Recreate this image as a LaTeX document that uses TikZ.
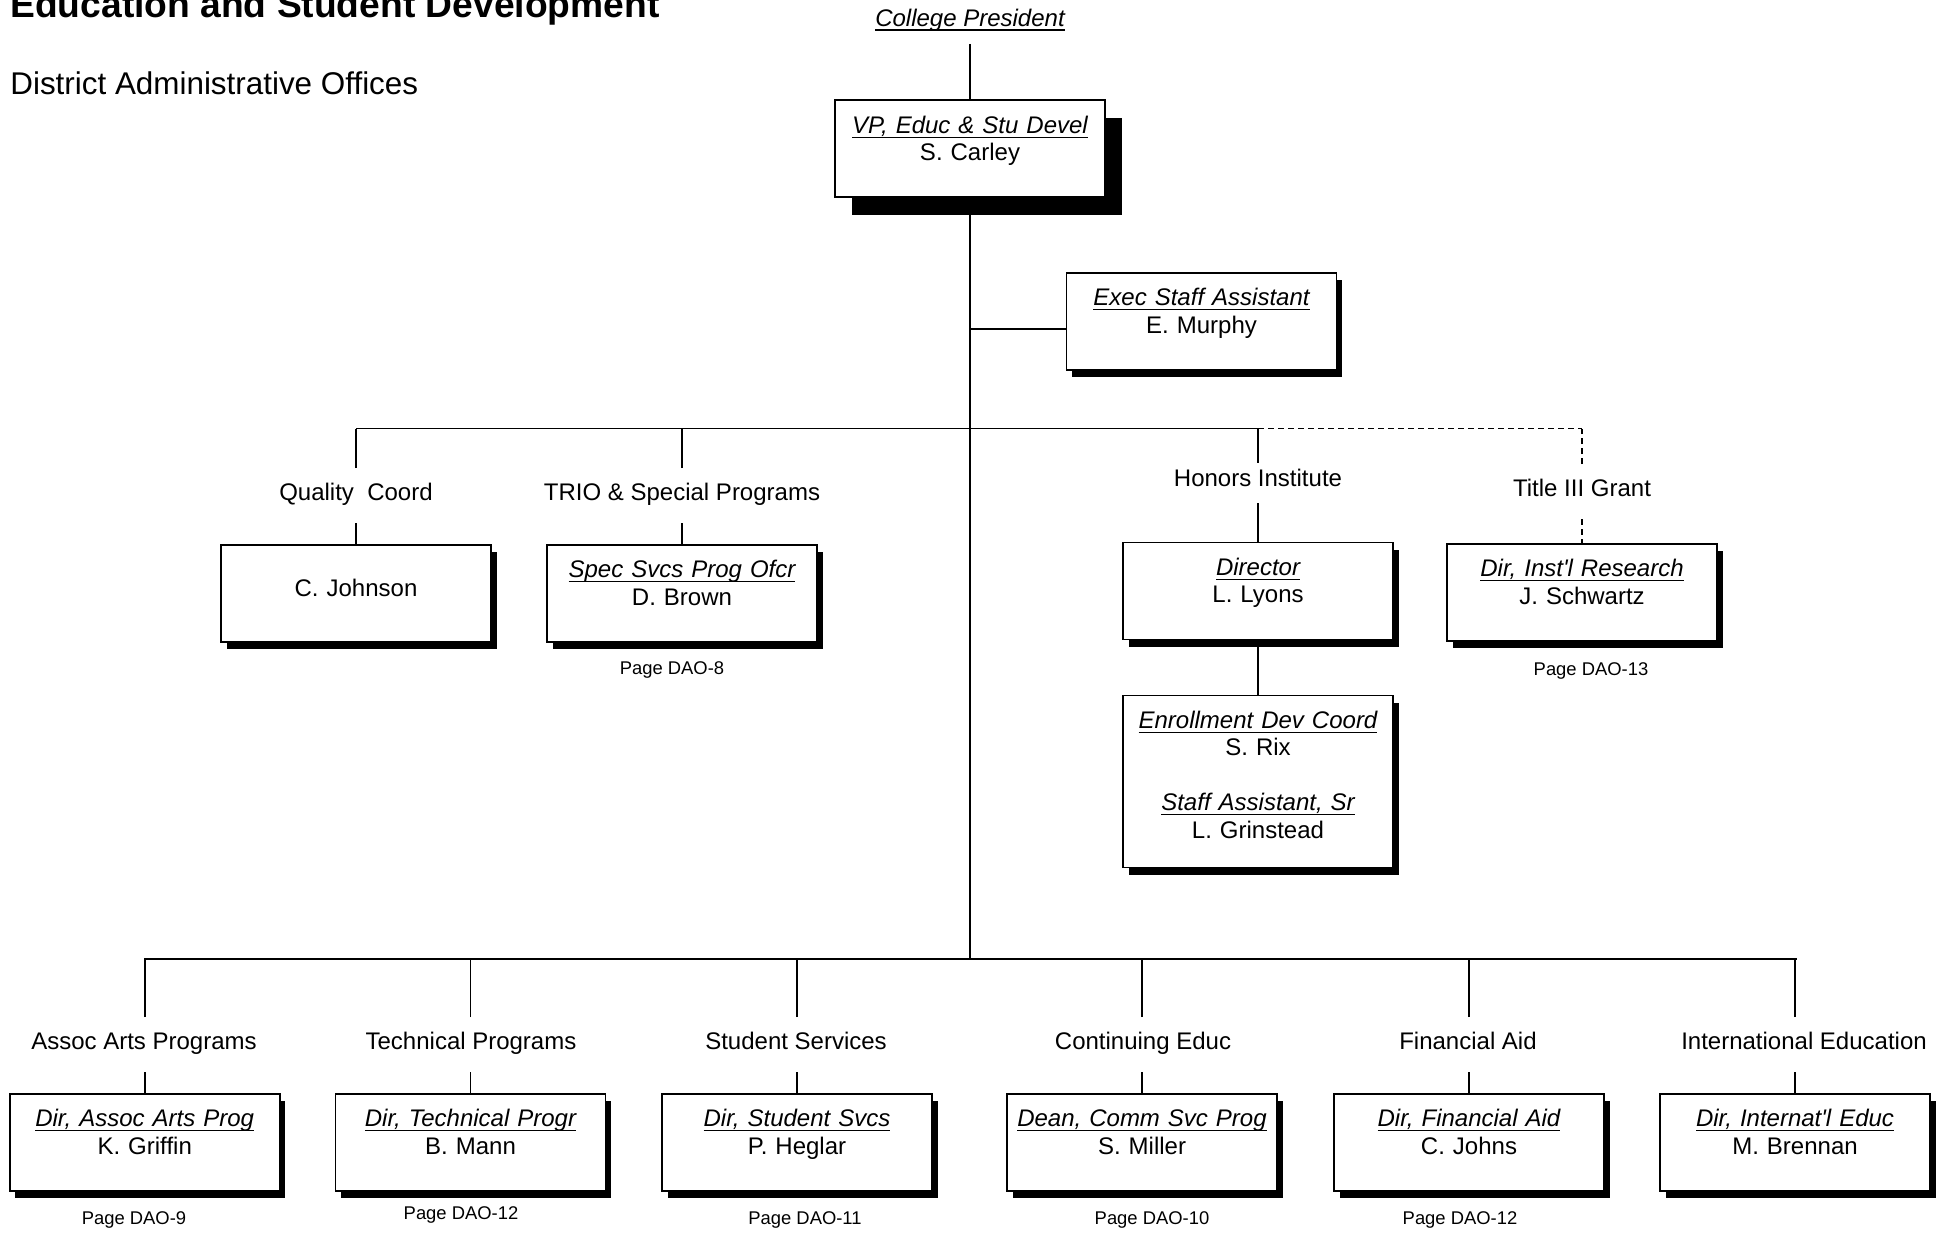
\documentclass[tikz,border=0pt]{standalone}
\usepackage{fontspec}
\setmainfont{Liberation Sans}
\usetikzlibrary{shadows}

\newsavebox{\ttlbox}
\newcommand{\ttl}[1]{\leavevmode\sbox{\ttlbox}{\itshape #1}\rlap{\usebox{\ttlbox}}\rule[-2.3pt]{\wd\ttlbox}{0.6pt}}

\tikzset{
  ubox/.style={draw, fill=white, line width=0.8pt, text width=131pt, inner xsep=2pt, inner ysep=0pt,
    align=center, anchor=north, font=\fontsize{12pt}{13.75pt}\selectfont, text height=16.5pt, text depth=32pt},
  unit/.style={ubox, drop shadow={fill=black, opacity=1, shadow xshift=2.8pt, shadow yshift=-3.8pt}},
  head/.style={ubox, drop shadow={fill=black, opacity=1, shadow xshift=8.5pt, shadow yshift=-9pt}},
  lab/.style={anchor=base, inner sep=0pt, text height=16pt, text depth=11pt, font=\fontsize{12pt}{14pt}\selectfont},
  pg/.style={inner sep=1pt, font=\fontsize{9.2pt}{11pt}\selectfont},
  link/.style={line width=0.8pt},
  grant/.style={link, dash pattern=on 3pt off 2pt}
}

\begin{document}
\begin{tikzpicture}[x=0.5pt, y=-0.5pt]
\useasboundingbox (0,0) rectangle (1948,1233);

\node[anchor=base west, inner sep=0pt, font=\fontsize{18.6pt}{22pt}\selectfont\bfseries] (title) at (10,17.4) {Education and Student Development};
\node[anchor=base west, inner sep=0pt, font=\fontsize{15.7pt}{19pt}\selectfont] (sub) at (10,94) {District Administrative Offices};

\node[lab, text height=10pt, text depth=8.75pt] (cp) at (970,26) {\ttl{College President}};
\node[head] (vp) at (970,99.4) {\ttl{VP, Educ \& Stu Devel}\\S. Carley};
\node[unit] (exec) at (1201.5,272) {\ttl{Exec Staff Assistant}\\E. Murphy};

\node[lab] (qcl) at (356,500.6) {Quality\ \ Coord};
\node[lab] (triol) at (682,500.6) {TRIO \& Special Programs};
\node[lab, text height=11.8pt, text depth=8.2pt] (honl) at (1258,486.6) {Honors Institute};
\node[lab] (t3l) at (1582,496.6) {Title III Grant};

\node[unit, text height=26pt, text depth=22.5pt] (qc) at (356,544) {C. Johnson};
\node[unit] (trio) at (682,544) {\ttl{Spec Svcs Prog Ofcr}\\D. Brown};
\node[unit] (dir) at (1258,541.6) {\ttl{Director}\\L. Lyons};
\node[unit, text depth=69.5pt] (enr) at (1258,694.5) {\ttl{Enrollment Dev Coord}\\S. Rix\\[13.75pt]\ttl{Staff Assistant, Sr}\\L. Grinstead};
\node[unit] (t3) at (1582,543) {\ttl{Dir, Inst\textquotesingle l Research}\\J. Schwartz};

\node[pg] (p8) at (672,669.5) {Page DAO-8};
\node[pg] (p13) at (1591,670.5) {Page DAO-13};

\coordinate (tl) at (356,428.6);
\coordinate (tm) at (1258,428.6);
\coordinate (tr) at (1582,428.6);
\coordinate (ej) at (970,329);
\coordinate (bl) at (144,959);
\coordinate (br) at (1797,959);

\draw[link] (cp) -- (vp);
\draw[link] (vp.south) -- (vp.south |- bl);
\draw[link] (ej) -- (ej -| exec.west);
\draw[link] (tl) -- (tm);
\draw[grant] (tm) -- (tr);
\draw[link] (qcl) -- (qcl |- tl);
\draw[link] (qcl) -- (qc);
\draw[link] (triol) -- (triol |- tl);
\draw[link] (triol) -- (trio);
\draw[link] (honl) -- (honl |- tm);
\draw[link] (honl) -- (dir);
\draw[link] (dir) -- (enr);
\draw[grant] (t3l) -- (t3l |- tr);
\draw[grant] (t3l) -- (t3);

\draw[link] (bl) -- (br);
\foreach \n/\x/\lx/\dept/\job/\who in {
    aa/144.7/144/Assoc Arts Programs/{Dir, Assoc Arts Prog}/K. Griffin,
    tp/470.5/471/Technical Programs/{Dir, Technical Progr}/B. Mann,
    ss/797/796/Student Services/{Dir, Student Svcs}/P. Heglar,
    ce/1142/1143/Continuing Educ/{Dean, Comm Svc Prog}/S. Miller,
    fa/1469/1468/Financial Aid/{Dir, Financial Aid}/C. Johns,
    ie/1795/1804/International Education/{Dir, Internat\textquotesingle l Educ}/M. Brennan}{
  \node[lab] (l\n) at (\lx,1049.6) {\dept};
  \node[unit] (\n) at (\x,1093) {\ttl{\job}\\\who};
  \draw[link] (\n.north |- l\n.north) -- (\n.north |- bl);
  \draw[link] (\n.north |- l\n.south) -- (\n.north);
}

\node[pg] (p9) at (134,1220) {Page DAO-9};
\node[pg] (p12a) at (461,1215) {Page DAO-12};
\node[pg] (p11) at (805,1220) {Page DAO-11};
\node[pg] (p10) at (1152,1220) {Page DAO-10};
\node[pg] (p12b) at (1460,1220) {Page DAO-12};
\end{tikzpicture}
\end{document}
